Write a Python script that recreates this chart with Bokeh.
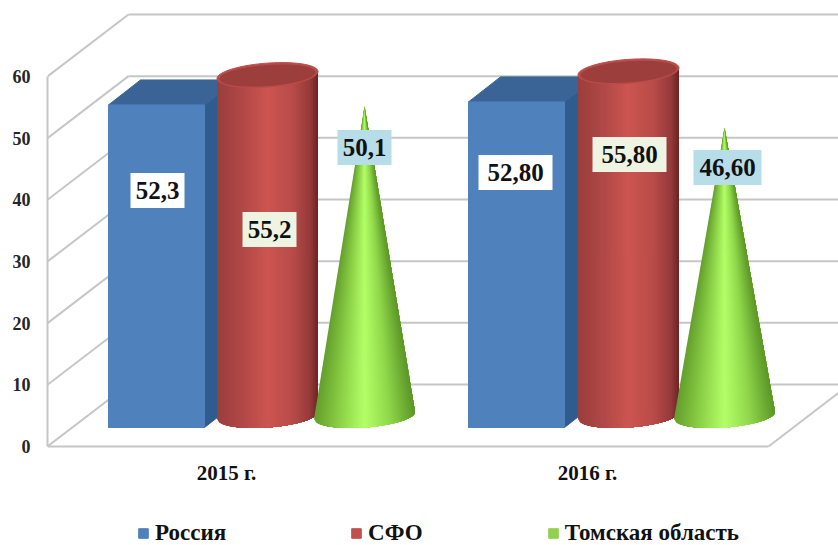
from bokeh.plotting import figure
from bokeh.models import Range1d, LinearAxis, FixedTicker, Legend, LegendItem
from bokeh.core.properties import value
from bokeh.embed import file_html
from bokeh.resources import INLINE
import numpy as np

# ---------- data ----------
years = ["2015 г.", "2016 г."]
series_names = ["Россия", "СФО", "Томская область"]
russia = [52.3, 52.8]
sfo = [55.2, 55.8]
tomsk = [50.1, 46.6]
russia_labels = ["52,3", "52,80"]
sfo_labels = ["55,2", "55,80"]
tomsk_labels = ["50,1", "46,60"]
y_ticks = [0, 10, 20, 30, 40, 50, 60]

# ---------- layout (page pixels of the picture) ----------
PX = 6.167               # pixels per value unit
Y0 = 446                 # pixel row of value 0 at the front of the floor
AX_L, AX_R = 47, 768     # floor front edge
DX, DY = 81, 62          # depth of the box
FONT = "Liberation Serif"
GRID = "#c6c6c6"
ROW_TOP, ROW_BOT = 0, 545  # rows of the picture covered by the plot frame
COL_R = 838

def U(px):               # pixel height -> value units
    return px / PX
def Yp(row):             # pixel row -> y data
    return (Y0 - row) / PX

blue_left = [108, 468]
red_cx = [267, 628]
cone_cx = [364, 724]
year_x = [226, 587]
YEAR_ROW = 472
BAR_W, BAR_DX, BAR_DY = 96, 32, 25
RX, RY, TILT = 50.5, 12, -0.07
BASE_ROW = 427
BASE_CY = BASE_ROW - RY

red_ramp = [(-1, "#9a3e3c"), (-0.5, "#b04846"), (0.0, "#cd5551"), (0.5, "#b84b48"), (0.85, "#94393a"), (1, "#6a2422")]
green_ramp = [(-1, "#649f2c"), (-0.55, "#88cc44"), (0.0, "#b3ff68"), (0.5, "#90d84a"), (1, "#5c9628")]

def ramp(stops, u):
    xs = [s[0] for s in stops]
    cs = [[int(s[1][i:i + 2], 16) for i in (1, 3, 5)] for s in stops]
    c = [np.interp(u, xs, [k[j] for k in cs]) for j in range(3)]
    return "#%02x%02x%02x" % tuple(int(round(v)) for v in c)

p = figure(frame_width=COL_R - AX_L, frame_height=ROW_BOT - ROW_TOP, output_backend="svg", toolbar_location=None,
           x_range=Range1d(AX_L, COL_R), y_range=Range1d(Yp(ROW_BOT), Yp(ROW_TOP)),
           min_border_left=AX_L, min_border_right=0, min_border_top=0, min_border_bottom=0,
           x_axis_location=None, y_axis_location=None,
           outline_line_color=None, background_fill_color="white", border_fill_color="white")
p.xgrid.visible = False
p.ygrid.visible = False

# ---------- walls ----------
xs, ys = [], []
for t in y_ticks:
    xs.append([AX_L + DX, AX_L + DX + 760]); ys.append([t + U(DY), t + U(DY)])
    xs.append([AX_L, AX_L + DX]); ys.append([t, t + U(DY)])
xs.append([AX_R, AX_R + DX]); ys.append([0, U(DY)])
xs.append([AX_L, AX_R]); ys.append([0, 0])
p.multi_line(xs, ys, line_color=GRID, line_width=2)

# ---------- blue boxes ----------
for i, v in enumerate(russia):
    l, r = blue_left[i], blue_left[i] + BAR_W
    b = Yp(BASE_ROW)
    t = b + v
    p.patch([r, r + BAR_DX, r + BAR_DX, r], [b, b + U(BAR_DY), t + U(BAR_DY), t], fill_color="#2f5c8f", line_color="#2f5c8f")
    p.patch([l, r, r + BAR_DX, l + BAR_DX], [t, t, t + U(BAR_DY), t + U(BAR_DY)], fill_color="#3a6496", line_color="#3a6496")
    p.quad(left=[l], right=[r], bottom=[b], top=[t], fill_color="#4f81bd", line_color="#4f81bd")

# ---------- shaded round bodies: each step paints from its left edge to the right rim ----------
N = 60
edges = np.linspace(-1, 1, N + 1)
base = Yp(BASE_CY)

def rim(us, level):
    return level - U(RY) * np.sqrt(np.clip(1 - us ** 2, 0, 1)) - U(TILT * RX) * us

# red cylinders
for i, v in enumerate(sfo):
    cx = red_cx[i]
    top = base + v
    sx, sy, col = [], [], []
    for a, b_ in zip(edges[:-1], edges[1:]):
        us = np.linspace(a, 1, 40)
        sx.append(list(cx + RX * us) + list(cx + RX * us[::-1]))
        sy.append(list(rim(us, base)) + list(rim(us, top)[::-1]))
        col.append(ramp(red_ramp, (a + b_) / 2))
    p.patches(sx, sy, fill_color=col, line_color=None)
    th = np.linspace(0, 2 * np.pi, 80)
    ex = cx + RX * np.cos(th)
    ey = top + U(RY) * np.sin(th) - U(TILT * RX) * np.cos(th)
    p.patch(ex, ey, fill_color="#b94c49", line_color="#b94c49")
    ex2 = cx + (RX - 3) * np.cos(th)
    ey2 = top + U(RY - 2) * np.sin(th) - U(TILT * (RX - 3)) * np.cos(th) - U(0.5)
    p.patch(ex2, ey2, fill_color="#9c3e3c", line_color="#9c3e3c")

# green cones
for i, v in enumerate(tomsk):
    cx = cone_cx[i]
    apex = base + v
    sx, sy, col = [], [], []
    for a, b_ in zip(edges[:-1], edges[1:]):
        us = np.linspace(a, 1, 40)
        sx.append(list(cx + RX * us) + [cx])
        sy.append(list(rim(us, base)) + [apex])
        col.append(ramp(green_ramp, (a + b_) / 2))
    p.patches(sx, sy, fill_color=col, line_color=None)

# ---------- value labels ----------
lab_cx = [157, 269, 364, 515, 629, 727]
lab_cy = [190, 229, 147, 172, 154, 167]
lab_w = [54, 54, 54, 74, 74, 68]
LAB_H = 35
lab_txt = [russia_labels[0], sfo_labels[0], tomsk_labels[0], russia_labels[1], sfo_labels[1], tomsk_labels[1]]
lab_fill = ["#ffffff", "#eef3e2", "#b7dde8", "#ffffff", "#eef3e2", "#b7dde8"]
p.quad(left=[c - w / 2 for c, w in zip(lab_cx, lab_w)], right=[c + w / 2 for c, w in zip(lab_cx, lab_w)],
       bottom=[Yp(c + LAB_H / 2) for c in lab_cy], top=[Yp(c - LAB_H / 2) for c in lab_cy],
       fill_color=lab_fill, line_color=None)
p.text(lab_cx, [Yp(c) for c in lab_cy], text=lab_txt, text_font=value(FONT), text_font_style="bold",
       text_font_size="25px", text_align="center", text_baseline="middle", text_color="#111111")

# ---------- category labels ----------
p.text(year_x, [Yp(YEAR_ROW)] * len(year_x), text=years, text_font=value(FONT), text_font_style="bold",
       text_font_size="21px", text_align="center", text_baseline="middle", text_color="#111111")

# ---------- axes ----------
ya = LinearAxis(ticker=FixedTicker(ticks=y_ticks), bounds=(0, 60))
ya.axis_line_color = GRID; ya.axis_line_width = 2
ya.major_tick_line_color = None; ya.minor_tick_line_color = None
ya.major_label_standoff = 11
ya.major_label_text_font = FONT; ya.major_label_text_font_style = "bold"
ya.major_label_text_font_size = "18px"; ya.major_label_text_color = "#262626"
p.add_layout(ya, "left")

# ---------- legend ----------
swatch = ["#4f81bd", "#c0504d", "#92d050"]
items = []
for name, c in zip(series_names, swatch):
    # legend keys: drawn outside the visible x range, only their colour is shown in the legend
    r = p.quad(left=[AX_L - 20], right=[AX_L - 10], bottom=[0], top=[1], fill_color=c, line_color=c)
    items.append(LegendItem(label=value(name), renderers=[r]))
leg = Legend(items=items, orientation="horizontal", location=(90, -1), spacing=124,
             border_line_color=None, background_fill_color=None, background_fill_alpha=0,
             label_text_font=FONT, label_text_font_style="bold", label_text_font_size="23px",
             label_text_color="#111111", glyph_width=12, glyph_height=12, label_standoff=6,
             padding=0, margin=0)
p.add_layout(leg, "center")

open("out.html", "w").write(file_html(p, INLINE))
